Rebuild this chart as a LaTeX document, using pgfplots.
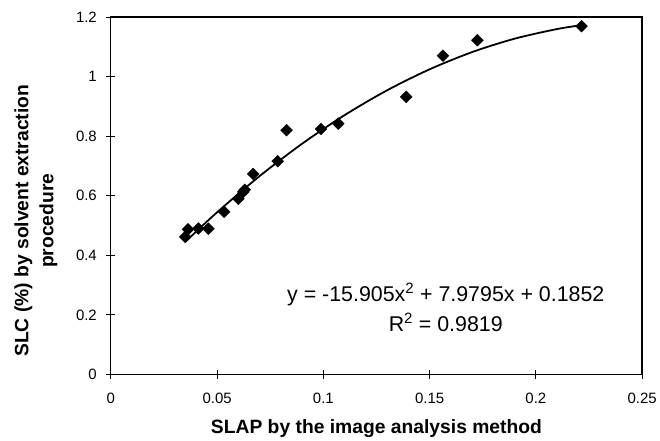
\documentclass[border=0pt]{standalone}
\usepackage{pgfplots}
\pgfplotsset{compat=1.18}
\usepackage{fontspec}
\setmainfont{Liberation Sans}
\begin{document}
\begin{tikzpicture}
\begin{axis}[
  scale only axis, width=532pt, height=358pt,
  xmin=0, xmax=0.25, ymin=0, ymax=1.2,
  xtick={0,0.05,0.1,0.15,0.2,0.25},
  xticklabels={0,0.05,0.1,0.15,0.2,0.25},
  ytick={0,0.2,0.4,0.6,0.8,1,1.2},
  yticklabels={0,0.2,0.4,0.6,0.8,1,1.2},
  xtick pos=bottom, ytick pos=left,
  tick align=center, major tick length=9pt,
  axis line style={line width=1.3pt},
  tick style={line width=0.9pt, black},
  ticklabel style={font=\fontsize{15}{18}\selectfont},
  xticklabel style={yshift=-11pt},
  yticklabel style={xshift=-6pt},
  /pgf/number format/assume math mode=true,
  xlabel={SLAP by the image analysis method},
  xlabel style={font=\bfseries\fontsize{19.3}{22}\selectfont, at={(axis description cs:0.5,-0.151)}, anchor=center},
  ylabel={SLC (\%) by solvent extraction\\procedure},
  ylabel style={font=\bfseries\fontsize{19.3}{25}\selectfont, align=center, at={(axis description cs:-0.141,0.43)}, anchor=center, rotate=0},
  clip=false,
]
\addplot[only marks, mark=square*, mark size=4.2pt, mark options={rotate=45, fill=black, draw=black}] coordinates {
(0.035,0.462) (0.0363,0.487) (0.0412,0.490) (0.0459,0.489) (0.0533,0.546)
(0.0600,0.590) (0.0623,0.613) (0.0630,0.620) (0.0670,0.673) (0.0785,0.716)
(0.0827,0.820) (0.0989,0.824) (0.1070,0.842) (0.1390,0.932) (0.1563,1.070)
(0.1725,1.122) (0.2215,1.169)
};
\addplot[black, line width=1.8pt, smooth] coordinates {
(0.035,0.4450) (0.05,0.5444) (0.07,0.6658) (0.09,0.7745) (0.11,0.8705)
(0.13,0.9538) (0.15,1.0243) (0.17,1.0821) (0.19,1.1271) (0.21,1.1595)
(0.2215,1.1723)
};
\node[font=\fontsize{21.4}{25}\selectfont] at (axis cs:0.1576,0.268) {y = -15.905x\textsuperscript{2} + 7.9795x + 0.1852};
\node[font=\fontsize{21.4}{25}\selectfont] at (axis cs:0.1576,0.174) {R\textsuperscript{2} = 0.9819};
\end{axis}
\path ([shift={(-111pt,-65pt)}]current axis.south west) rectangle ([shift={(17pt,17pt)}]current axis.north east);
\end{tikzpicture}
\end{document}
